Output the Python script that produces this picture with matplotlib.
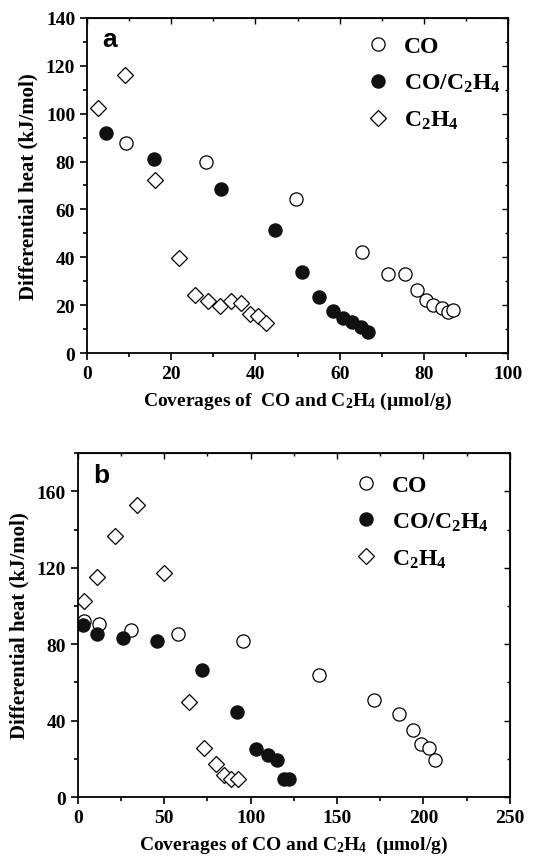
import matplotlib
matplotlib.use('Agg')
import matplotlib.pyplot as plt
from matplotlib.ticker import MultipleLocator

plt.rcParams['font.family'] = 'Liberation Serif'
plt.rcParams['font.weight'] = 'bold'
plt.rcParams['mathtext.default'] = 'regular'

# panel a: coverage (umol/g) vs differential heat (kJ/mol)
a_co_x = [9.3, 28.3, 49.7, 65.2, 71.4, 75.5, 78.3, 80.4, 82.2, 84.2, 85.7, 86.9]
a_co_y = [87.9, 80.0, 64.2, 42.2, 33.2, 32.9, 26.2, 22.1, 20.2, 18.8, 17.2, 17.9]
a_mix_x = [4.4, 16.0, 31.9, 44.7, 51.0, 55.2, 58.4, 60.8, 63.0, 65.0, 66.8]
a_mix_y = [92.1, 81.2, 68.7, 51.4, 33.8, 23.3, 17.7, 14.8, 12.8, 10.7, 8.8]
a_eth_x = [2.5, 9.0, 16.2, 21.9, 25.7, 28.8, 31.7, 34.3, 36.6, 38.6, 40.7, 42.6]
a_eth_y = [102.2, 116.1, 72.2, 39.5, 24.4, 21.9, 19.8, 21.9, 20.7, 16.5, 15.4, 12.6]

# panel b
b_co_x = [3.3, 12.5, 30.6, 58.2, 95.8, 139.6, 171.5, 186.0, 194.1, 198.7, 203.0, 206.6]
b_co_y = [92.0, 90.7, 87.6, 85.5, 81.8, 63.7, 51.0, 43.3, 35.2, 27.9, 25.8, 19.5]
b_mix_x = [2.9, 11.2, 26.0, 45.9, 71.9, 92.1, 103.1, 110.1, 115.1, 119.3, 122.0]
b_mix_y = [89.9, 85.2, 83.2, 81.5, 66.3, 44.3, 25.1, 22.2, 19.5, 9.2, 9.2]
b_eth_x = [3.3, 11.0, 21.4, 34.5, 50.1, 64.4, 73.2, 79.8, 84.8, 88.7, 92.5]
b_eth_y = [102.8, 115.0, 136.8, 152.7, 117.4, 49.6, 25.6, 17.4, 11.3, 9.2, 9.6]

labels = ['CO', 'CO/C$_2$H$_4$', 'C$_2$H$_4$']


def panel(ax, series, xlim, ylim, xmaj, xmin, ymaj, ymin, letter, xlabel, leg_anchor):
    styles = [dict(marker='o', mfc='white', mec='black', ms=9.5),
              dict(marker='o', mfc='#111111', mec='#111111', ms=9.5),
              dict(marker='D', mfc='white', mec='black', ms=8.5)]
    for (x, y), st, lab in zip(series, styles, labels):
        ax.plot(x, y, ls='none', mew=0.9, label=lab, **st)

    ax.set_xlim(*xlim)
    ax.set_ylim(*ylim)
    ax.xaxis.set_major_locator(MultipleLocator(xmaj))
    ax.xaxis.set_minor_locator(MultipleLocator(xmin))
    ax.yaxis.set_major_locator(MultipleLocator(ymaj))
    ax.yaxis.set_minor_locator(MultipleLocator(ymin))
    ax.tick_params(which='both', direction='out', width=1.2, labelsize=14,
                   top=False, right=False)
    ax.tick_params(which='major', length=5)
    ax.tick_params(which='minor', length=3)
    for s in ax.spines.values():
        s.set_linewidth(1.3)

    # inward ticks on the top and right edges
    top = ax.secondary_xaxis('top')
    top.xaxis.set_major_locator(MultipleLocator(xmaj))
    top.xaxis.set_minor_locator(MultipleLocator(xmin))
    top.tick_params(which='both', direction='in', labeltop=False, width=1.0)
    top.tick_params(which='major', length=4)
    top.tick_params(which='minor', length=2.5)
    right = ax.secondary_yaxis('right')
    right.yaxis.set_major_locator(MultipleLocator(ymaj))
    right.yaxis.set_minor_locator(MultipleLocator(ymin))
    right.tick_params(which='both', direction='in', labelright=False, width=1.0)
    right.tick_params(which='major', length=4)
    right.tick_params(which='minor', length=2.5)

    ax.set_xlabel(xlabel, fontsize=14, fontweight='bold', labelpad=6)
    ax.set_ylabel('Differential heat (kJ/mol)', fontsize=15, fontweight='bold', labelpad=5)
    ax.text(0.035, 0.915, letter, transform=ax.transAxes, fontsize=19,
            fontweight='bold', family='Liberation Sans')
    ax.legend(loc='upper left', bbox_to_anchor=leg_anchor, frameon=False,
              prop=dict(family='Liberation Serif', weight='bold', size=17),
              handletextpad=0.6, labelspacing=0.62, borderaxespad=0, handlelength=1.0)


fig = plt.figure(figsize=(5.6, 8.62), dpi=100)
ax1 = fig.add_axes([0.1554, 0.5893, 0.7518, 0.3887])
ax2 = fig.add_axes([0.139, 0.0742, 0.7714, 0.399])

panel(ax1, [(a_co_x, a_co_y), (a_mix_x, a_mix_y), (a_eth_x, a_eth_y)],
      (0, 100), (0, 140), 20, 10, 20, 10, 'a',
      'Coverages of  CO and C$_2$H$_4$ (\u00b5mol/g)', (0.64, 0.975))
panel(ax2, [(b_co_x, b_co_y), (b_mix_x, b_mix_y), (b_eth_x, b_eth_y)],
      (0, 250), (0, 180), 50, 25, 40, 20, 'b',
      'Coverages of CO and C$_2$H$_4$  (\u00b5mol/g)', (0.618, 0.965))

fig.savefig('out.png', dpi=100)
